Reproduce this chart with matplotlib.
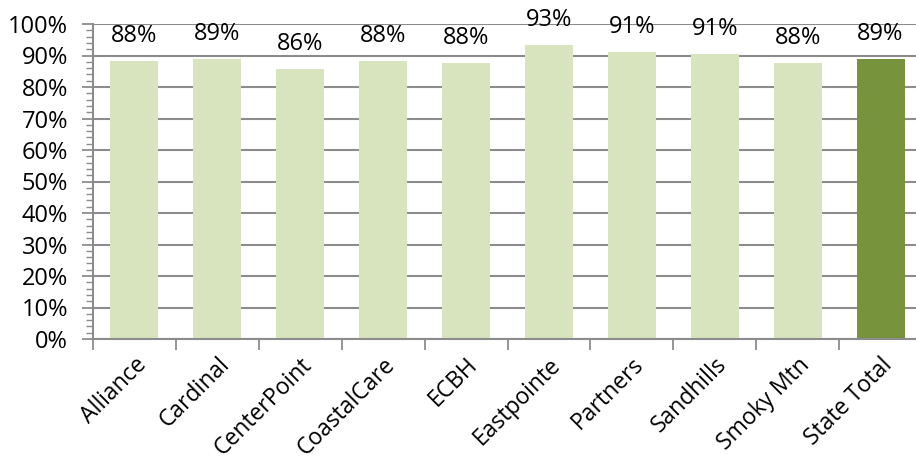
import matplotlib.pyplot as plt
from matplotlib.ticker import MultipleLocator, FuncFormatter, FixedLocator

regions = ['Alliance', 'Cardinal', 'CenterPoint', 'CoastalCare', 'ECBH',
           'Eastpointe', 'Partners', 'Sandhills', 'Smoky Mtn', 'State Total']
values = [88.1, 89.0, 85.8, 88.1, 87.6, 93.2, 91.0, 90.6, 87.6, 89.0]
labels = ['88%', '89%', '86%', '88%', '88%', '93%', '91%', '91%', '88%', '89%']

light = '#D7E4BD'
dark = '#77933C'
grey = '#8C8C8C'

plt.rcParams['font.family'] = ['Open Sans', 'DejaVu Sans']
fs = 17

fig = plt.figure(figsize=(9.16, 4.62), dpi=100)
ax = fig.add_axes([93/916, 1-339/462, 829/916, 315/462])

colors = [light]*(len(regions)-1) + [dark]
x = list(range(len(regions)))
bars = ax.bar(x, values, width=0.58, color=colors, zorder=2)

for xi, v, lab in zip(x, values, labels):
    ax.annotate(lab, (xi, v), xytext=(0, 25), textcoords='offset pixels',
                ha='center', va='center', fontsize=fs, color='black')

ax.set_xlim(-0.5, len(regions)-0.5)
ax.set_ylim(0, 100)

# y axis: percent labels, grey gridlines, minor ticks every 2%
ax.yaxis.set_major_locator(MultipleLocator(10))
ax.yaxis.set_minor_locator(MultipleLocator(2))
ax.yaxis.set_major_formatter(FuncFormatter(lambda v, p: f'{int(v)}%'))
ax.grid(axis='y', color=grey, linewidth=1.5, zorder=0)
ax.tick_params(axis='y', which='major', length=8, width=1.3, color=grey,
               labelsize=fs, pad=10)
ax.tick_params(axis='y', which='minor', length=5, width=1.0, color=grey)

# x axis: ticks at category boundaries, labels at centers
ax.xaxis.set_major_locator(FixedLocator([i - 0.5 for i in range(len(regions)+1)]))
ax.xaxis.set_minor_locator(FixedLocator(x))
ax.set_xticklabels([])
ax.set_xticklabels(regions, minor=True, rotation=45, ha='right',
                   rotation_mode='anchor', fontsize=16.5)
ax.tick_params(axis='x', which='major', length=8, width=1.3, color=grey)
ax.tick_params(axis='x', which='minor', length=0, pad=10)

for s in ['top', 'right']:
    ax.spines[s].set_visible(False)
for s in ['left', 'bottom']:
    ax.spines[s].set_color(grey)
    ax.spines[s].set_linewidth(1.5)

fig.savefig('out.png', dpi=100)
